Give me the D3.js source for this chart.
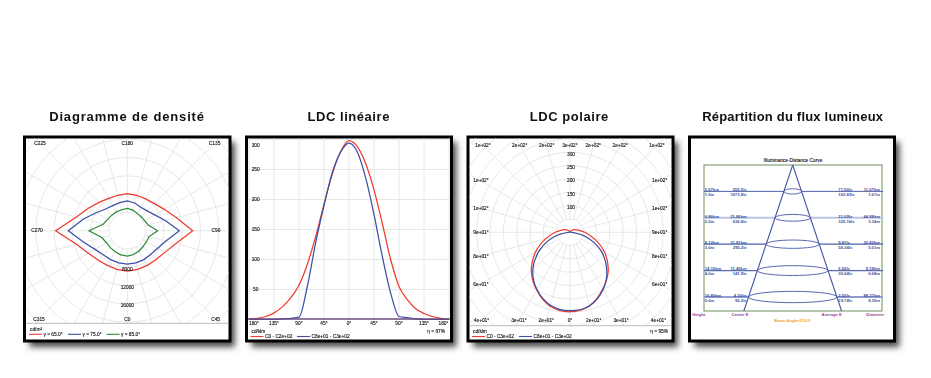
<!DOCTYPE html>
<html>
<head>
    <meta charset="utf-8">
    <script src="https://cdn.jsdelivr.net/npm/d3@7/dist/d3.min.js"></script>
    <style type="text/css">
        body { margin: 0; background: white; }
        svg { display: block; filter: blur(0.3px); }
        text { font-family: "Liberation Sans", Arial, sans-serif; fill: #111; }
        .title { font-size: 13px; font-weight: bold; text-anchor: middle; fill: #111; }
        .small { font-size: 4.8px; stroke: #111; stroke-width: 0.12; }
        .mid { text-anchor: middle; dominant-baseline: central; }
        .grid { fill: none; stroke: #e2e2e2; stroke-width: 0.8; }
        .curve { fill: none; stroke-width: 1.25; }
    </style>
</head>
<body>
    <svg id="chart" width="931" height="378"></svg>

    <script>
        var RED = "#ee3b2c", BLUE = "#3c50a8", GREEN = "#2f8a3c";

        // density diagram, one value per 15 degrees from C0, cd/m2
        var cAngles = d3.range(0, 360, 15);
        var density65 = [8820, 8750, 8750, 8890, 9480, 10940, 14290, 11080, 9330, 8380, 8020, 8020,
            8090, 8020, 8160, 8750, 9840, 11520, 15670, 11520, 9840, 9040, 8750, 8750];
        var density75 = [7290, 7290, 7290, 7290, 7650, 8750, 11370, 8600, 6930, 6120, 5900, 6270,
            6490, 6340, 6340, 6710, 7870, 9910, 12900, 9840, 8160, 7440, 7290, 7290];
        var density85 = [5540, 5390, 5100, 4880, 4810, 4960, 6630, 4740, 4370, 4300, 4370, 4670,
            4880, 4740, 4740, 4810, 4960, 5470, 8380, 5760, 5250, 5250, 5320, 5470];
        var densityRings = [4000, 8000, 12000, 16000, 20000, 24000, 28000, 32000];
        var densityTicks = [8000, 12000, 16000];
        var densityLabels = ["C180", "C135", "C90", "C45", "C0", "C315", "C270", "C225"];
        var densityLegend = ["γ = 65.0°", "γ = 75.0°", "γ = 85.0°"];

        // linear LDC, cd/klm
        var gammaAngles = d3.range(-180, 181, 15);
        var linearC0 = [1, 2, 5, 11, 21, 36, 57, 92, 138, 192, 243, 280, 298, 288, 260, 216, 160, 100, 55, 33, 18, 10, 5, 2, 0];
        var linearC90 = [0, 0, 0, 0, 1, 2, 4, 55, 128, 190, 245, 279, 294, 279, 236, 175, 105, 44, 5, 3, 1, 0, 0, 0, 0];
        var linearTicks = [50, 100, 150, 200, 250, 300];
        var linearXTicks = [-180, -135, -90, -45, 0, 45, 90, 135, 180];

        // polar LDC, cd/klm
        var polarC0 = [0, 2, 5, 11, 20, 33, 55, 95, 150, 203, 246, 285, 298, 287, 250, 205, 150, 95, 55, 33, 20, 11, 5, 2, 0];
        var polarC90 = [0, 0, 0, 0, 1, 2, 8, 60, 132, 195, 248, 285, 294, 283, 248, 197, 130, 58, 8, 2, 1, 0, 0, 0, 0];
        var polarRings = [50, 100, 150, 200, 250, 300, 350, 400, 450, 500];
        var polarTicks = [100, 150, 200, 250, 300];
        var polarLabels = ["3e+02°", "2e+02°", "2e+02°", "1e+02°", "1e+02°", "1e+02°", "9e+01°", "8e+01°",
            "6e+01°", "4e+01°", "3e+01°", "2e+01°", "0°", "2e+01°", "3e+01°", "4e+01°", "6e+01°", "8e+01°",
            "9e+01°", "1e+02°", "1e+02°", "1e+02°", "2e+02°", "2e+02°"];

        // illuminance-distance cone
        var heights = [1, 2, 3, 4, 5];
        var diameters = [1.67, 3.34, 5.01, 6.68, 8.35];
        var heightLabels = ["1.0m", "2.0m", "3.0m", "4.0m", "5.0m"];
        var diameterLabels = ["1.67m", "3.34m", "5.01m", "6.68m", "8.35m"];
        var centerE = ["1073.8lx", "636.8lx", "295.2lx", "141.9lx", "95.2lx"];
        var averageE = ["102.83lx", "325.16lx", "56.34lx", "30.04lx", "19.74lx"];
        var rowA = ["5.67km", "6.86km", "8.12km", "14.16km", "16.80km"];
        var rowB = ["555.5lx", "21.86km", "31.87km", "11.45km", "4.30lm"];
        var rowC = ["71.50lx", "21.09lx", "9.87lx", "6.50lx", "3.50lx"];
        var rowD = ["11.67km", "44.98km", "30.82km", "9.18km", "88.37km"];

        var svg = d3.select("#chart");

        var defs = svg.append("defs");
        defs.append("filter").attr("id", "blur")
            .attr("x", "-10%").attr("y", "-10%").attr("width", "120%").attr("height", "120%")
            .append("feGaussianBlur").attr("stdDeviation", 3);

        function frame(title, titleX, spacing, x0, x1, clip) {
            svg.append("text").attr("class", "title").attr("x", titleX).attr("y", 120.5)
                .style("letter-spacing", spacing + "px").text(title);
            svg.append("rect").attr("x", x0 + 5).attr("y", 142).attr("width", x1 - x0).attr("height", 205)
                .attr("fill", "#4a4a4a").attr("filter", "url(#blur)");
            svg.append("rect").attr("x", x0).attr("y", 137).attr("width", x1 - x0).attr("height", 204)
                .attr("fill", "white").attr("stroke", "black").attr("stroke-width", 3);
            defs.append("clipPath").attr("id", clip.id).append("rect")
                .attr("x", clip.x0).attr("y", clip.y0)
                .attr("width", clip.x1 - clip.x0).attr("height", clip.y1 - clip.y0);
            return svg.append("g");
        }

        function legendItem(g, x, y, color, label) {
            g.append("line").attr("x1", x).attr("x2", x + 13).attr("y1", y).attr("y2", y)
                .attr("stroke", color).attr("stroke-width", 1.1);
            g.append("text").attr("class", "small").attr("x", x + 14.5).attr("y", y + 1.7).text(label);
        }

        // position on the plot edge for a spoke, 0 = up, clockwise
        function edgePoint(deg, cx, cy, hw, top, bottom) {
            var a = deg * Math.PI / 180, s = Math.sin(a), c = -Math.cos(a);
            var tx = Math.abs(s) < 1e-6 ? Infinity : hw / Math.abs(s);
            var ty = Math.abs(c) < 1e-6 ? Infinity : (c < 0 ? top : bottom) / Math.abs(c);
            var t = Math.min(tx, ty);
            return [cx + s * t, cy + c * t];
        }

        function polarGrid(g, clipId, cx, cy, r, rings) {
            var inner = g.append("g").attr("clip-path", "url(#" + clipId + ")");
            inner.selectAll("circle").data(rings).enter().append("circle")
                .attr("class", "grid").attr("cx", cx).attr("cy", cy)
                .attr("r", function (d) { return r(d); });
            inner.selectAll("line").data(d3.range(0, 360, 15)).enter().append("line")
                .attr("class", "grid")
                .attr("x1", function (d) { return cx + Math.sin(d * Math.PI / 180) * r(rings[0]); })
                .attr("y1", function (d) { return cy - Math.cos(d * Math.PI / 180) * r(rings[0]); })
                .attr("x2", function (d) { return cx + Math.sin(d * Math.PI / 180) * 220; })
                .attr("y2", function (d) { return cy - Math.cos(d * Math.PI / 180) * 220; });
            return inner;
        }

        // --- density diagram
        (function () {
            var cx = 127.3, cy = 230.7;
            var g = frame("Diagramme de densité", 127, 0.85, 24.5, 230,
                { id: "clip1", x0: 26, x1: 228.5, y0: 138.5, y1: 323.3 });
            var r = d3.scaleLinear().domain([0, 4000]).range([0, 18.3]);
            var inner = polarGrid(g, "clip1", cx, cy, r, densityRings);

            var radial = d3.lineRadial()
                .angle(function (d, i) { return Math.PI - cAngles[i] * Math.PI / 180; })
                .radius(function (d) { return r(d); })
                .curve(d3.curveLinearClosed);
            [[density65, RED], [density75, BLUE], [density85, GREEN]].forEach(function (s) {
                inner.append("path").attr("class", "curve")
                    .attr("transform", "translate(" + cx + "," + cy + ")")
                    .attr("d", radial(s[0])).attr("stroke", s[1]);
            });

            densityTicks.forEach(function (t) {
                g.append("text").attr("class", "small mid").attr("x", cx).attr("y", cy + r(t) + 2).text(t);
            });
            densityLabels.forEach(function (t, i) {
                var p = edgePoint(i * 45, cx, cy, 91, 87.3, 88.3);
                var x = Math.max(37, Math.min(p[0], 216));
                g.append("text").attr("class", "small mid").attr("x", x).attr("y", p[1]).text(t);
            });

            g.append("line").attr("x1", 26).attr("x2", 228.5).attr("y1", 323.3).attr("y2", 323.3)
                .attr("stroke", "#aaa").attr("stroke-width", 0.8);
            g.append("text").attr("class", "small").attr("x", 30).attr("y", 331).text("cd/m²");
            legendItem(g, 29, 334.3, RED, densityLegend[0]);
            legendItem(g, 68, 334.3, BLUE, densityLegend[1]);
            legendItem(g, 106.5, 334.3, GREEN, densityLegend[2]);
        })();

        // --- linear LDC
        (function () {
            var g = frame("LDC linéaire", 348.7, 0.55, 246.5, 451.5,
                { id: "clip2", x0: 248, x1: 450, y0: 138.5, y1: 320 });
            var x = d3.scaleLinear().domain([-180, 180]).range([249, 449]);
            var y = d3.scaleLinear().domain([0, 300]).range([319.5, 139.5]);

            var plot = g.append("g").attr("clip-path", "url(#clip2)");
            plot.selectAll(".v").data(linearXTicks).enter().append("line").attr("class", "grid v")
                .attr("x1", function (d) { return x(d); }).attr("x2", function (d) { return x(d); })
                .attr("y1", 138).attr("y2", 320);
            plot.selectAll(".h").data(linearTicks).enter().append("line").attr("class", "grid h")
                .attr("x1", 248).attr("x2", 450)
                .attr("y1", function (d) { return y(d); }).attr("y2", function (d) { return y(d); });

            var line = d3.line()
                .x(function (d, i) { return x(gammaAngles[i]); })
                .y(function (d) { return y(d); })
                .curve(d3.curveMonotoneX);
            plot.append("path").attr("class", "curve").attr("stroke", RED).attr("d", line(linearC0));
            plot.append("path").attr("class", "curve").attr("stroke", BLUE).attr("d", line(linearC90));

            g.append("line").attr("x1", 248).attr("x2", 450).attr("y1", 319).attr("y2", 319)
                .attr("stroke", "#6a4a80").attr("stroke-width", 1.4);

            linearTicks.forEach(function (t) {
                g.append("text").attr("class", "small mid").attr("x", 255.7)
                    .attr("y", Math.max(145.7, y(t))).text(t);
            });
            linearXTicks.forEach(function (t) {
                g.append("text").attr("class", "small mid")
                    .attr("x", Math.max(254, Math.min(443.5, x(t)))).attr("y", 323.5)
                    .text(Math.abs(t) + "°");
            });

            g.append("text").attr("class", "small").attr("x", 251.5).attr("y", 333).text("cd/klm");
            g.append("text").attr("class", "small").attr("x", 445).attr("y", 333)
                .attr("text-anchor", "end").text("η = 97%");
            legendItem(g, 250.5, 336.5, RED, "C0 - C2e+02");
            legendItem(g, 297, 336.5, BLUE, "C8e+01 - C3e+02");
        })();

        // --- polar LDC
        (function () {
            var cx = 570, cy = 232.3;
            var g = frame("LDC polaire", 569.3, 0.55, 468, 673,
                { id: "clip3", x0: 469.5, x1: 671.5, y0: 138.5, y1: 325.7 });
            var r = d3.scaleLinear().domain([0, 50]).range([0, 13.33]);
            var inner = polarGrid(g, "clip3", cx, cy, r, polarRings);

            var radial = d3.lineRadial()
                .angle(function (d, i) { return Math.PI + gammaAngles[i] * Math.PI / 180; })
                .radius(function (d) { return r(d); })
                .curve(d3.curveCatmullRom.alpha(0.5));
            inner.append("path").attr("class", "curve").attr("stroke", RED)
                .attr("transform", "translate(" + cx + "," + cy + ")").attr("d", radial(polarC0));
            inner.append("path").attr("class", "curve").attr("stroke", BLUE)
                .attr("transform", "translate(" + cx + "," + cy + ")").attr("d", radial(polarC90));

            polarTicks.forEach(function (t) {
                g.append("text").attr("class", "small mid").attr("x", cx + 1)
                    .attr("y", cy - r(t) + 2).text(t);
            });
            polarLabels.forEach(function (t, i) {
                var p = edgePoint(i * 15, cx, cy, 89.7, 87, 88.5);
                var px = Math.max(481, Math.min(p[0], 660));
                g.append("text").attr("class", "small mid").attr("x", px).attr("y", p[1]).text(t);
            });

            g.append("line").attr("x1", 469.5).attr("x2", 671.5).attr("y1", 325.7).attr("y2", 325.7)
                .attr("stroke", "#aaa").attr("stroke-width", 0.8);
            g.append("text").attr("class", "small").attr("x", 473).attr("y", 333).text("cd/klm");
            g.append("text").attr("class", "small").attr("x", 668).attr("y", 333)
                .attr("text-anchor", "end").text("η = 95%");
            legendItem(g, 472, 336.5, RED, "C0 - C3e+02");
            legendItem(g, 519, 336.5, BLUE, "C8e+01 - C3e+02");
        })();

        // --- illuminance-distance curve
        (function () {
            var g = frame("Répartition du flux lumineux", 792.7, 0.2, 689.5, 894.5,
                { id: "clip4", x0: 691, x1: 893, y0: 138.5, y1: 339.5 });
            var y = d3.scaleLinear().domain([0, 5]).range([165, 297]);
            var x = d3.scaleLinear().domain([-4.175, 4.175]).range([748.5, 836.9]);
            var baseH = y.invert(311);
            var spread = diameters[0] / heights[0] / 2;

            g.append("text").attr("class", "small mid").attr("x", 793).attr("y", 160.7)
                .text("Illuminance-Distance Curve");
            g.append("rect").attr("x", 704).attr("y", 165).attr("width", 178).attr("height", 146)
                .attr("fill", "none").attr("stroke", "#6f8f5f").attr("stroke-width", 1);

            var lineColors = ["#3c4f9f", "#b9c4e4", "#4f60ab", "#5a6ab0", "#8f9dd2"];
            var lineWidths = [0.9, 2, 1.3, 1.2, 1.8];
            heights.forEach(function (h, i) {
                var rx = x(diameters[i] / 2) - x(0);
                [[704, x(-diameters[i] / 2)], [x(diameters[i] / 2), 883]].forEach(function (seg) {
                    g.append("line").attr("x1", seg[0]).attr("x2", seg[1])
                        .attr("y1", y(h)).attr("y2", y(h))
                        .attr("stroke", lineColors[i]).attr("stroke-width", lineWidths[i]);
                });
                g.append("ellipse").attr("cx", x(0)).attr("cy", y(h))
                    .attr("rx", rx).attr("ry", 1.9 + rx * 0.085)
                    .attr("fill", "none").attr("stroke", "#4658a8").attr("stroke-width", 0.9);

                var rows = [
                    [rowA[i], 704.7, "start", -1.7], [rowB[i], 746.7, "end", -1.7],
                    [rowC[i], 838.3, "start", -1.7], [rowD[i], 880, "end", -1.7],
                    [heightLabels[i], 704.7, "start", 3.3], [centerE[i], 746.7, "end", 3.3],
                    [averageE[i], 838.3, "start", 3.3], [diameterLabels[i], 880, "end", 3.3]
                ];
                rows.forEach(function (t) {
                    g.append("text").attr("x", t[1]).attr("y", y(h) + t[3]).attr("text-anchor", t[2])
                        .attr("dominant-baseline", "central")
                        .style("font-size", "4.2px").style("font-weight", "bold").style("fill", "#3c4f9f")
                        .text(t[0]);
                });
            });

            [-1, 1].forEach(function (side) {
                g.append("line").attr("x1", x(0)).attr("y1", y(0))
                    .attr("x2", x(side * spread * baseH)).attr("y2", y(baseH))
                    .attr("stroke", "#4658a8").attr("stroke-width", 1.1);
            });

            [["Height", 698.7], ["Center E", 740], ["Average E", 831.7], ["Diameter", 875.3]].forEach(function (t) {
                g.append("text").attr("class", "mid").attr("x", t[1]).attr("y", 314.7)
                    .style("font-size", "4.2px").style("font-weight", "bold").style("fill", "#a0409a").text(t[0]);
            });
            g.append("text").attr("class", "mid").attr("x", 792.7).attr("y", 320.7)
                .style("font-size", "4px").style("font-weight", "bold").style("fill", "#f0a030").text("Beam Angle=119.5°");
        })();
    </script>
</body>
</html>
